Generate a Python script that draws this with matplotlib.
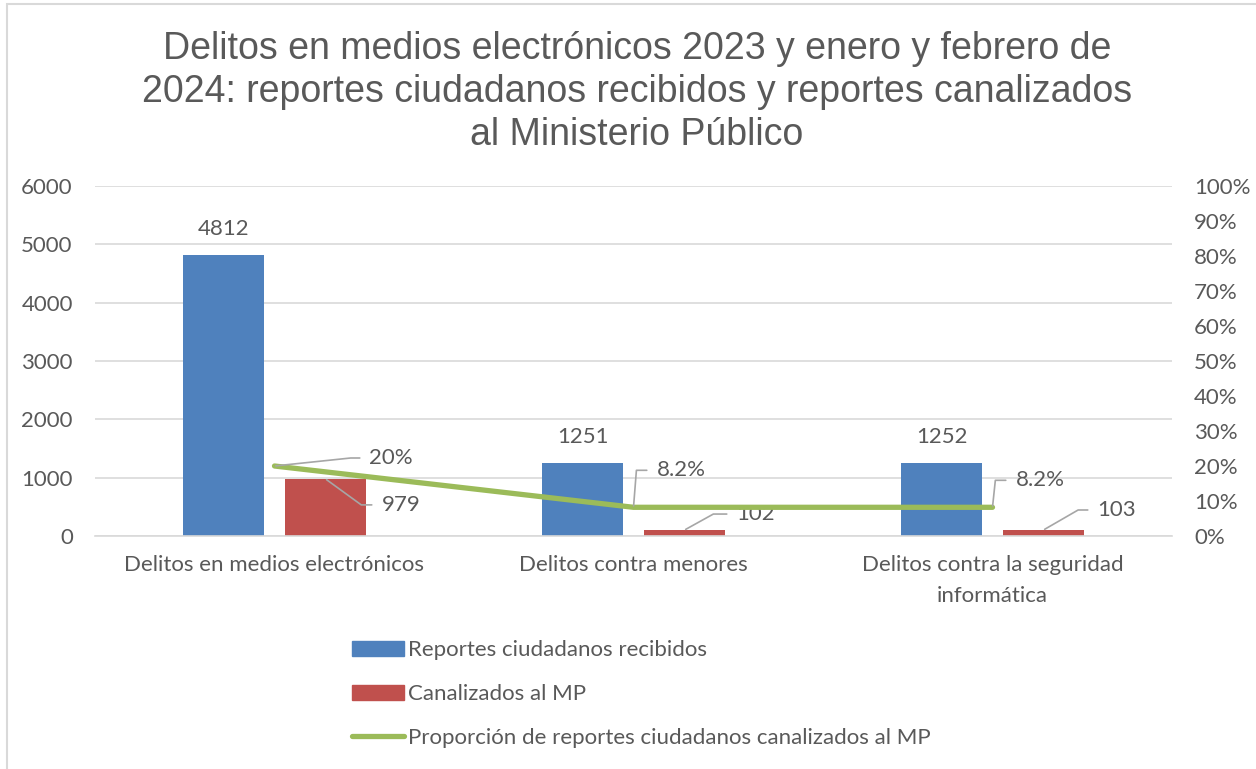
import numpy as np
import matplotlib.pyplot as plt
import matplotlib.patches as mpatches
from matplotlib.lines import Line2D

categorias = ["Delitos en medios electrónicos", "Delitos contra menores",
              "Delitos contra la seguridad\ninformática"]
recibidos = [4812, 1251, 1252]
canalizados = [979, 102, 103]
proporcion = [0.20, 0.082, 0.082]
proporcion_txt = ["20%", "8.2%", "8.2%"]

azul = "#4F81BD"
rojo = "#C0504D"
verde = "#9BBB59"
gris = "#595959"
rejilla = "#D9D9D9"
fs = 16

plt.rcParams['font.family'] = ['Lato', 'DejaVu Sans']

fig = plt.figure(figsize=(12.56, 7.69), dpi=100)
ax = fig.add_axes([95 / 1256, 1 - 536 / 769, (1172 - 95) / 1256, 350 / 769])
ax2 = ax.twinx()

# marco del grafico
fig.patches.append(mpatches.Rectangle((7 / 1256, -0.1), 1.2, 1 - 4 / 769 + 0.1,
                                      transform=fig.transFigure, fill=False,
                                      edgecolor=rejilla, linewidth=1.5))

x = np.arange(len(categorias))
w = 0.223
off = 0.142
ax.bar(x - off, recibidos, w, color=azul, zorder=2)
ax.bar(x + off, canalizados, w, color=rojo, zorder=2)

ax.set_ylim(0, 6000)
ax.set_xlim(-0.5, 2.5)
ax.set_yticks(range(0, 6001, 1000))
ax.set_xticks(x)
ax.set_xticklabels(categorias, linespacing=1.65)
ax.grid(axis='y', color=rejilla, linewidth=1.2, zorder=0)
ax.set_axisbelow(True)
for s in ['top', 'left', 'right']:
    ax.spines[s].set_visible(False)
ax.spines['bottom'].set_color(rejilla)
ax.spines['bottom'].set_linewidth(1.2)
ax.tick_params(axis='y', length=0, pad=16, labelsize=fs, labelcolor=gris)
ax.tick_params(axis='x', length=0, pad=14, labelsize=fs, labelcolor=gris)

ax2.plot(x, proporcion, color=verde, linewidth=3.8, solid_capstyle='round', zorder=3)
ax2.set_ylim(0, 1)
ax2.set_yticks(np.arange(0, 1.01, 0.1))
ax2.set_yticklabels([f"{int(round(v * 100))}%" for v in np.arange(0, 1.01, 0.1)])
for s in ax2.spines.values():
    s.set_visible(False)
ax2.tick_params(axis='y', length=0, pad=16, labelsize=fs, labelcolor=gris)
for t in ax2.get_yticklabels():
    t.set_horizontalalignment('left')

# etiquetas sobre las barras azules
for i, v in enumerate(recibidos):
    ax.annotate(str(v), (x[i] - off, v), xytext=(0, 26), textcoords='offset pixels',
                ha='center', va='center', fontsize=fs, color=gris)


def etiqueta(axis, xy, txt, dx, dy, ang):
    axis.annotate(txt, xy, xytext=(dx, dy), textcoords='offset pixels',
                  ha='left', va='center', fontsize=fs, color=gris, zorder=5,
                  arrowprops=dict(arrowstyle='-', color='#A6A6A6', lw=1.2,
                                  shrinkA=5, shrinkB=1, relpos=(0, 0.5),
                                  connectionstyle=f"angle,angleA=0,angleB={ang},rad=0"))


# proporciones (eje derecho)
p_offsets = [(95, 8, 6), (23, 37, 85.5), (23, 27, 84)]
for i, v in enumerate(proporcion):
    dx, dy, ang = p_offsets[i]
    etiqueta(ax2, (x[i], v), proporcion_txt[i], dx, dy, ang)

# canalizados
c_offsets = [(56, -26, -36), (52, 16, 29), (54, 20, 30)]
for i, v in enumerate(canalizados):
    dx, dy, ang = c_offsets[i]
    etiqueta(ax, (x[i] + off, v), str(v), dx, dy, ang)

fig.text(637 / 1256, 1 - 92 / 769,
         "Delitos en medios electrónicos 2023 y enero y febrero de\n"
         "2024: reportes ciudadanos recibidos y reportes canalizados\n"
         "al Ministerio Público",
         ha='center', va='center', fontsize=27, color=gris,
         family=['Liberation Sans', 'DejaVu Sans'], linespacing=1.25)

handles = [mpatches.Patch(color=azul), mpatches.Patch(color=rojo),
           Line2D([], [], color=verde, linewidth=3.8, solid_capstyle='round')]
labels = ["Reportes ciudadanos recibidos", "Canalizados al MP",
          "Proporción de reportes ciudadanos canalizados al MP"]
leg = fig.legend(handles, labels, loc='upper left', bbox_to_anchor=(352 / 1256, 1 - 640 / 769),
                 frameon=False, fontsize=fs, handlelength=2.35, handleheight=0.65,
                 handletextpad=0.18, labelspacing=1.08, borderpad=0, borderaxespad=0)
for t in leg.get_texts():
    t.set_color(gris)

fig.savefig("out.png", dpi=100)
